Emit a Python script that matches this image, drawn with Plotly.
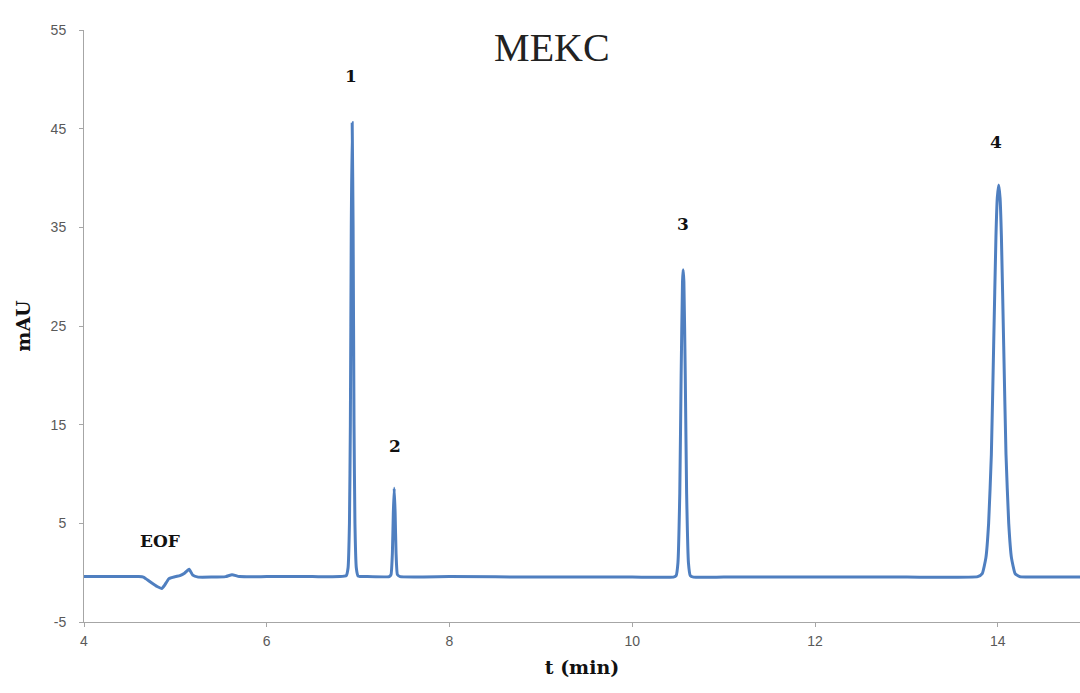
import plotly.graph_objects as go

# Electropherogram trace (t in min, signal in mAU)
t_min = [4.00, 4.30, 4.60, 4.65, 4.72, 4.80, 4.85, 4.88, 4.93, 5.00, 5.05, 5.10, 5.15, 5.19, 5.25,
         5.40, 5.55, 5.62, 5.70, 6.00, 6.50, 6.80,
         6.870, 6.890, 6.905, 6.915, 6.925, 6.935, 6.945, 6.955, 6.965, 6.980, 7.000, 7.100,
         7.340, 7.360, 7.375, 7.385, 7.395, 7.405, 7.415, 7.430, 7.460,
         8.00, 9.00, 10.00, 10.450, 10.480, 10.500, 10.520, 10.535, 10.550, 10.557, 10.565,
         10.580, 10.595, 10.615, 10.635, 10.670,
         11.00, 12.00, 13.00, 13.78, 13.83, 13.87, 13.90, 13.93, 13.955, 13.98, 13.995, 14.01,
         14.025, 14.04, 14.065, 14.09, 14.12, 14.15, 14.19, 14.24, 14.50, 14.90]
mau = [-0.40, -0.40, -0.40, -0.45, -0.90, -1.40, -1.60, -1.30, -0.60, -0.40, -0.30, -0.05, 0.35, -0.25, -0.45,
       -0.45, -0.40, -0.20, -0.40, -0.40, -0.40, -0.40,
       -0.30, 0.50, 5.00, 15.00, 35.00, 45.60, 35.00, 15.00, 5.00, 0.50, -0.35, -0.40,
       -0.40, -0.20, 2.00, 6.00, 8.55, 6.00, 2.00, -0.20, -0.40,
       -0.40, -0.45, -0.45, -0.45, -0.30, 1.00, 8.00, 20.00, 29.50, 30.70, 29.50,
       20.00, 8.00, 1.00, -0.30, -0.45,
       -0.45, -0.45, -0.45, -0.40, -0.10, 1.50, 5.00, 12.00, 23.00, 34.00, 38.00, 39.30,
       38.00, 34.00, 23.00, 12.00, 5.00, 1.50, -0.10, -0.40, -0.45, -0.45]

# Peak labels
label_text = ["EOF", "1", "2", "3", "4"]
label_t = [4.83, 6.92, 7.40, 10.55, 13.98]
label_y = [3.2, 50.3, 12.8, 35.3, 43.6]

x_ticks = [4, 6, 8, 10, 12, 14]
y_ticks = [-5, 5, 15, 25, 35, 45, 55]

fig = go.Figure()
fig.add_trace(go.Scatter(x=t_min, y=mau, mode="lines",
                         line=dict(color="#4F7FC0", width=3, shape="spline", smoothing=0.4),
                         showlegend=False, hoverinfo="skip"))

for txt, tx, ty in zip(label_text, label_t, label_y):
    fig.add_annotation(x=tx, y=ty, text=f"<b>{txt}</b>", showarrow=False,
                       font=dict(family="DejaVu Serif", size=17, color="#111111"))

axis_common = dict(showgrid=False, zeroline=False, showline=True, linecolor="#A6A6A6",
                   linewidth=1, ticks="outside", ticklen=4, tickcolor="#A6A6A6",
                   tickfont=dict(family="Liberation Sans", size=14, color="#595959"))

fig.update_layout(
    width=1080, height=693,
    margin=dict(l=84, r=0, t=30, b=71),
    paper_bgcolor="white", plot_bgcolor="white",
    title=dict(text="MEKC", x=0.511, xanchor="center", y=0.932, yanchor="middle",
               font=dict(family="Liberation Serif", size=40, color="#222222")),
    xaxis=dict(range=[4, 14.9], tickvals=x_ticks, ticktext=[str(v) for v in x_ticks],
               ticklabelstandoff=2,
               title=dict(text="<b>t (min)</b>", standoff=12,
                          font=dict(family="DejaVu Serif", size=19, color="#111111")),
               **axis_common),
    yaxis=dict(range=[-5, 55], tickvals=y_ticks, ticktext=[str(v) for v in y_ticks],
               ticklabelstandoff=10,
               title=dict(text="<b>mAU</b>", standoff=14,
                          font=dict(family="DejaVu Serif", size=19, color="#111111")),
               **axis_common),
)

fig.write_html("out.html")
